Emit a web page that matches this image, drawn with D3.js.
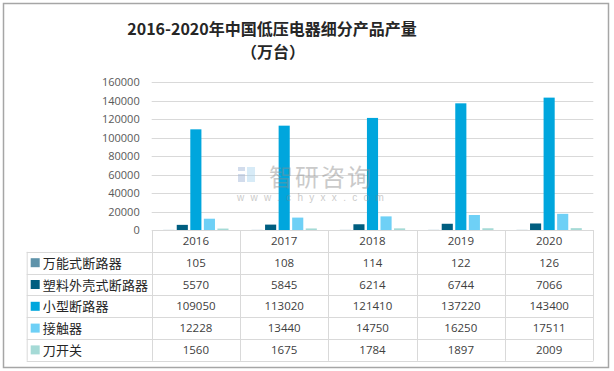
<!DOCTYPE html>
<html><head><meta charset="utf-8">
<script src="https://cdn.jsdelivr.net/npm/d3@7"></script>
<style>
body{margin:0;background:#fff;}
svg{display:block;font-family:"Noto Sans CJK SC","Liberation Sans",sans-serif;}
</style></head>
<body><svg id="c" width="614" height="371"></svg>
<script>
const years = ["2016","2017","2018","2019","2020"];
const seriesNames = ["万能式断路器","塑料外壳式断路器","小型断路器","接触器","刀开关"];
const s1 = [105,108,114,122,126];
const s2 = [5570,5845,6214,6744,7066];
const s3 = [109050,113020,121410,137220,143400];
const s4 = [12228,13440,14750,16250,17511];
const s5 = [1560,1675,1784,1897,2009];
const yTicks = [0,20000,40000,60000,80000,100000,120000,140000,160000];
const colors = ["#5F93AA","#005E80","#00A6DD","#6ED0F6","#A5DAD6"];
const seriesValues = [s1,s2,s3,s4,s5];

(function(){
const svg = d3.select("#c");
svg.append("rect").attr("x",3.5).attr("y",3.5).attr("width",605).attr("height",364)
  .attr("fill","#fff").attr("stroke","#A6A6A6").attr("stroke-width",1.5);

svg.append("text").attr("x",272).attr("y",35).attr("text-anchor","middle")
  .attr("font-size",16).attr("font-weight","bold").attr("fill","#262626")
  .text("2016-2020年中国低压电器细分产品产量");
svg.append("text").attr("x",273).attr("y",58).attr("text-anchor","middle")
  .attr("font-size",16).attr("font-weight","bold").attr("fill","#262626")
  .text("（万台）");

const pLeft=151.7, pRight=593.3, pTop=82.3, pBottom=230;
const x = d3.scaleBand().domain(years).range([pLeft,pRight]);
const y = d3.scaleLinear().domain([0,160000]).range([pBottom,pTop]);
const xs = d3.scaleBand().domain(d3.range(5)).range([11.5, x.bandwidth()-11.5]).paddingInner(0.18);

svg.append("g").selectAll("line").data(yTicks.filter(d=>d>0)).join("line")
  .attr("x1",pLeft).attr("x2",pRight).attr("y1",d=>Math.round(y(d))+0.5).attr("y2",d=>Math.round(y(d))+0.5)
  .attr("stroke","#D9D9D9").attr("stroke-width",1);

const yAxis = d3.axisLeft(y).tickValues(yTicks).tickSize(0).tickPadding(0).tickFormat(d3.format("d"));
const ga = svg.append("g").attr("transform",`translate(${pLeft-12},0)`).call(yAxis);
ga.select(".domain").remove();
ga.selectAll("text").attr("font-size",11).attr("fill","#595959")
  .attr("font-family","'Open Sans','Liberation Sans',sans-serif");

const groups = svg.append("g").selectAll("g").data(years).join("g")
  .attr("transform",d=>`translate(${x(d)},0)`);
groups.selectAll("rect").data((d,i)=>seriesValues.map((s,k)=>({k,v:s[i]}))).join("rect")
  .attr("x",d=>xs(d.k)).attr("width",xs.bandwidth())
  .attr("y",d=>y(d.v)).attr("height",d=>Math.max(0,pBottom-y(d.v)))
  .attr("fill",d=>colors[d.k]);

const wm = svg.append("g").attr("opacity",0.45);
wm.append("rect").attr("x",238).attr("y",167).attr("width",7).attr("height",4).attr("fill","#9DB3D6");
wm.append("rect").attr("x",238).attr("y",174).attr("width",7).attr("height",8).attr("fill","#9DB3D6");
wm.append("rect").attr("x",247).attr("y",167).attr("width",8).attr("height",15).attr("fill","#A8D4EE");
wm.append("text").attr("x",269).attr("y",186).attr("font-size",24).attr("fill","#8C8C8C")
  .attr("letter-spacing",2).text("智研咨询");
wm.append("text").attr("x",237).attr("y",201).attr("font-size",10).attr("fill","#8C8C8C")
  .attr("letter-spacing",6.3).attr("font-family","'Liberation Sans',sans-serif").text("www.chyxx.com");

const rowH = 21.8;
const tableLeft = 26.7;
const lineColor = "#D9D9D9";
const tg = svg.append("g");
tg.append("line").attr("x1",pLeft).attr("x2",pRight).attr("y1",pBottom+0.5).attr("y2",pBottom+0.5).attr("stroke",lineColor);
const rowsY = d3.range(6).map(i=>pBottom+rowH*(i+1));
rowsY.forEach((ry)=>{
  tg.append("line").attr("x1",tableLeft).attr("x2",pRight).attr("y1",Math.round(ry)+0.5).attr("y2",Math.round(ry)+0.5).attr("stroke",lineColor);
});
tg.append("line").attr("x1",tableLeft+0.5).attr("x2",tableLeft+0.5).attr("y1",rowsY[0]).attr("y2",rowsY[5]).attr("stroke",lineColor);
[pLeft, ...years.map(d=>x(d)+x.bandwidth())].forEach(vx=>{
  tg.append("line").attr("x1",Math.round(vx)+0.5).attr("x2",Math.round(vx)+0.5).attr("y1",pBottom).attr("y2",rowsY[5]).attr("stroke",lineColor);
});
tg.selectAll("text.yr").data(years).join("text").attr("class","yr")
  .attr("x",d=>x(d)+x.bandwidth()/2).attr("y",pBottom+rowH/2+4).attr("text-anchor","middle")
  .attr("font-size",11.5).attr("fill","#404040").attr("font-family","'Open Sans','Liberation Sans',sans-serif")
  .text(d=>d);
seriesNames.forEach((name,k)=>{
  const ry = rowsY[k];
  tg.append("rect").attr("x",tableLeft+4).attr("y",ry+rowH/2-4.5).attr("width",9).attr("height",9).attr("fill",colors[k]);
  tg.append("text").attr("x",tableLeft+16).attr("y",ry+rowH/2+5).attr("font-size",13).attr("fill","#262626")
    .attr("letter-spacing",0.2).text(name);
  tg.selectAll(null).data(seriesValues[k]).join("text")
    .attr("x",(d,i)=>x(years[i])+x.bandwidth()/2).attr("y",ry+rowH/2+4).attr("text-anchor","middle")
    .attr("font-size",11.5).attr("fill","#404040").attr("font-family","'Open Sans','Liberation Sans',sans-serif")
    .text(d=>d);
});
})();
</script></body></html>
